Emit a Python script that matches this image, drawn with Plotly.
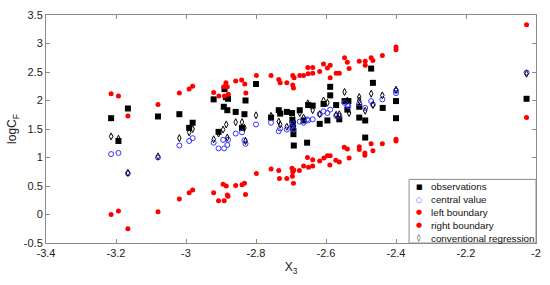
import plotly.graph_objects as go

# observations (black squares)
obs_x = [-3.214, -3.193, -3.166, -3.080, -3.019, -2.991, -2.981, -2.921, -2.907, -2.892,
         -2.890, -2.886, -2.882, -2.880, -2.858, -2.840, -2.833, -2.830, -2.800, -2.757,
         -2.735, -2.731, -2.712, -2.697, -2.696, -2.695, -2.694, -2.693, -2.692, -2.675,
         -2.664, -2.654, -2.651, -2.638, -2.618, -2.607, -2.596, -2.588, -2.588, -2.571,
         -2.562, -2.547, -2.536, -2.539, -2.505, -2.505, -2.488, -2.488, -2.471, -2.466,
         -2.438, -2.400, -2.400, -2.027]
obs_y = [1.69, 1.29, 1.86, 1.72, 1.76, 1.52, 1.61, 2.02, 1.45, 1.89,
         2.20, 2.06, 1.83, 2.03, 1.80, 1.52, 1.76, 2.00, 2.29, 1.70,
         1.83, 1.77, 1.80, 1.78, 1.66, 1.59, 1.52, 1.41, 1.21, 1.83,
         1.65, 1.26, 1.92, 1.91, 1.59, 1.94, 1.65, 2.24, 2.09, 1.92,
         1.67, 1.99, 1.99, 1.84, 1.89, 1.70, 1.65, 1.35, 2.56, 2.31,
         1.87, 1.99, 1.69, 2.03]

# central value (blue open circles)
cen_x = [-3.214, -3.193, -3.166, -3.080, -3.019, -2.991, -2.981, -2.921, -2.907, -2.894,
         -2.891, -2.882, -2.880, -2.858, -2.840, -2.833, -2.830, -2.800, -2.757, -2.735,
         -2.731, -2.712, -2.697, -2.695, -2.692, -2.675, -2.664, -2.654, -2.651, -2.638,
         -2.618, -2.607, -2.596, -2.588, -2.571, -2.562, -2.547, -2.539, -2.536, -2.505,
         -2.488, -2.471, -2.466, -2.439, -2.400, -2.400, -2.027]
cen_y = [1.06, 1.08, 0.72, 1.00, 1.21, 1.29, 1.34, 1.26, 1.16, 1.31,
         1.16, 1.22, 1.31, 1.42, 1.44, 1.30, 1.24, 1.58, 1.61, 1.46,
         1.51, 1.49, 1.55, 1.60, 1.49, 1.63, 1.61, 1.67, 1.65, 1.67,
         1.76, 1.81, 1.78, 1.84, 1.73, 1.73, 1.96, 1.92, 1.90, 1.95,
         1.87, 1.99, 1.93, 2.02, 2.13, 2.17, 2.49]

# left boundary (red, lower)
left_x = [-3.214, -3.193, -3.166, -3.080, -3.019, -2.991, -2.981, -2.921, -2.907, -2.891,
          -2.894, -2.885, -2.882, -2.880, -2.858, -2.840, -2.833, -2.830, -2.799, -2.757,
          -2.735, -2.733, -2.712, -2.697, -2.692, -2.695, -2.696, -2.693, -2.676, -2.664,
          -2.653, -2.650, -2.638, -2.638, -2.618, -2.606, -2.596, -2.588, -2.589, -2.572,
          -2.562, -2.548, -2.539, -2.534, -2.505, -2.505, -2.489, -2.489, -2.471, -2.466,
          -2.439, -2.400, -2.400, -2.027]
left_y = [0.00, 0.06, -0.25, 0.05, 0.27, 0.38, 0.43, 0.38, 0.24, 0.24,
          0.53, 0.50, 0.34, 0.32, 0.51, 0.52, 0.55, 0.35, 0.72, 0.80,
          0.77, 0.63, 0.63, 0.81, 0.78, 0.75, 0.67, 0.55, 0.77, 0.85,
          1.00, 0.83, 0.96, 0.85, 0.94, 0.99, 1.03, 1.03, 0.87, 0.95,
          0.92, 1.18, 1.15, 0.99, 1.19, 1.14, 1.08, 1.04, 1.24, 1.12,
          1.24, 1.32, 1.29, 1.70]

# right boundary (red, upper)
right_x = [-3.214, -3.193, -3.166, -3.080, -3.019, -2.991, -2.981, -2.921, -2.906, -2.892,
           -2.886, -2.882, -2.890, -2.879, -2.858, -2.841, -2.832, -2.829, -2.799, -2.757,
           -2.735, -2.731, -2.712, -2.695, -2.691, -2.695, -2.693, -2.675, -2.664, -2.652,
           -2.638, -2.651, -2.638, -2.618, -2.607, -2.596, -2.588, -2.588, -2.571, -2.562,
           -2.547, -2.539, -2.534, -2.505, -2.488, -2.488, -2.471, -2.466, -2.439, -2.400,
           -2.400, -2.027]
right_y = [2.12, 2.08, 1.73, 1.93, 2.13, 2.20, 2.25, 2.14, 2.08, 2.24,
           2.31, 2.24, 2.08, 2.11, 2.34, 2.36, 2.29, 2.13, 2.44, 2.44,
           2.37, 2.31, 2.31, 2.44, 2.40, 2.27, 2.22, 2.44, 2.44, 2.58,
           2.58, 2.47, 2.48, 2.51, 2.64, 2.57, 2.62, 2.40, 2.48, 2.48,
           2.75, 2.67, 2.56, 2.69, 2.69, 2.62, 2.75, 2.70, 2.79, 2.94,
           2.89, 3.33]

# conventional regression (black open diamonds)
conv_x = [-3.214, -3.193, -3.166, -3.080, -3.019, -2.991, -2.981, -2.921, -2.907, -2.894,
          -2.885, -2.882, -2.858, -2.840, -2.833, -2.830, -2.800, -2.757, -2.735, -2.731,
          -2.712, -2.695, -2.692, -2.675, -2.664, -2.652, -2.638, -2.618, -2.607, -2.596,
          -2.571, -2.562, -2.547, -2.539, -2.534, -2.505, -2.505, -2.488, -2.471, -2.466,
          -2.439, -2.400, -2.027]
conv_y = [1.37, 1.33, 0.73, 1.02, 1.34, 1.44, 1.50, 1.32, 1.42, 1.49,
          1.58, 1.35, 1.62, 1.62, 1.52, 1.29, 1.74, 1.73, 1.63, 1.58,
          1.54, 1.72, 1.63, 1.78, 1.70, 1.95, 1.83, 1.76, 2.00, 1.96,
          1.75, 1.76, 2.15, 2.00, 1.78, 2.06, 2.00, 1.82, 2.12, 1.92,
          2.09, 2.19, 2.47]

x_ticks = [-3.4, -3.2, -3.0, -2.8, -2.6, -2.4, -2.2, -2.0]
x_labels = ["-3.4", "-3.2", "-3", "-2.8", "-2.6", "-2.4", "-2.2", "-2"]
y_ticks = [-0.5, 0, 0.5, 1, 1.5, 2, 2.5, 3, 3.5]
y_labels = ["-0.5", "0", "0.5", "1", "1.5", "2", "2.5", "3", "3.5"]

legend_names = ["observations", "central value", "left boundary", "right boundary",
                "conventional regression"]
legend_glyphs = ["■", "○", "●", "●", "◊"]
legend_colors = ["black", "#3333ff", "#ff0000", "#ff0000", "black"]

fig = go.Figure()
fig.add_trace(go.Scatter(x=obs_x, y=obs_y, mode="markers", name=legend_names[0],
                         marker=dict(symbol="square", size=6, color="black")))
fig.add_trace(go.Scatter(x=cen_x, y=cen_y, mode="markers", name=legend_names[1],
                         marker=dict(symbol="circle-open", size=5, color="#3333ff", line=dict(width=1))))
fig.add_trace(go.Scatter(x=left_x, y=left_y, mode="markers", name=legend_names[2],
                         marker=dict(symbol="circle", size=5, color="#ff0000")))
fig.add_trace(go.Scatter(x=right_x, y=right_y, mode="markers", name=legend_names[3],
                         marker=dict(symbol="circle", size=5, color="#ff0000")))
fig.add_trace(go.Scatter(x=conv_x, y=conv_y, mode="markers", name=legend_names[4],
                         marker=dict(symbol="diamond-tall-open", size=5, color="black", line=dict(width=1))))

axis_style = dict(showline=True, linecolor="#8c8c8c", linewidth=1, mirror="ticks",
                  ticks="inside", ticklen=4, tickcolor="#8c8c8c", showgrid=False,
                  zeroline=False, tickfont=dict(size=11, color="#222"))
fig.update_xaxes(range=[-3.4, -2.0], tickvals=x_ticks, ticktext=x_labels,
                 ticklabeloverflow="allow",
                 title=dict(text="X<sub>3</sub>", font=dict(size=12, color="#222"), standoff=4),
                 **axis_style)
fig.update_yaxes(range=[-0.5, 3.5], tickvals=y_ticks, ticktext=y_labels,
                 title=dict(text="logC<sub>F</sub>", font=dict(size=12, color="#222"), standoff=4),
                 **axis_style)

# compact MATLAB-style legend box in the lower right corner
fig.add_shape(type="rect", xref="paper", yref="paper", x0=0.741, x1=1.0, y0=0.0, y1=0.279,
              line=dict(color="#8c8c8c", width=1), fillcolor="white", layer="above")
row_y = [0.2466, 0.1893, 0.1338, 0.0782, 0.0214]
for name, glyph, color, ry in zip(legend_names, legend_glyphs, legend_colors, row_y):
    fig.add_annotation(xref="paper", yref="paper", x=0.7616, y=ry, text=glyph,
                       showarrow=False, xanchor="center", yanchor="middle",
                       font=dict(size=7, color=color, family="DejaVu Sans"))
    fig.add_annotation(xref="paper", yref="paper", x=0.7812, y=ry, text=name,
                       showarrow=False, xanchor="left", yanchor="middle",
                       font=dict(size=9.8, color="#111"))

fig.update_layout(
    width=550, height=285,
    margin=dict(l=46, r=9, t=9, b=42),
    paper_bgcolor="white", plot_bgcolor="white",
    font=dict(family="Liberation Sans, Arial, sans-serif", color="#222"),
    showlegend=False,
)
fig.write_html("out.html", config={"displayModeBar": False},
               post_script="document.body.style.margin='0';")
